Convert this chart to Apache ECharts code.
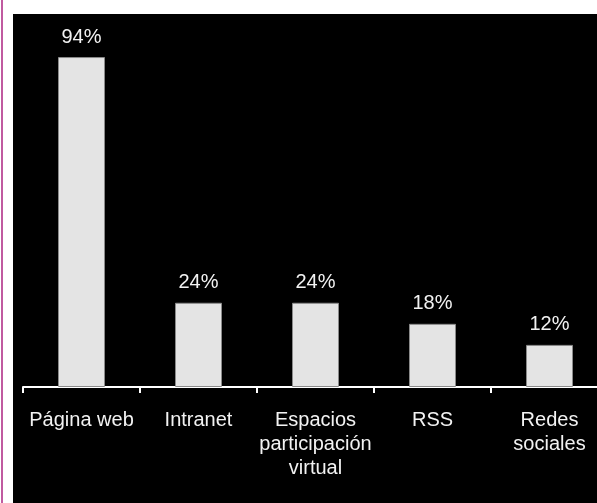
<!DOCTYPE html>
<html><head><meta charset="utf-8">
<script src="https://cdn.jsdelivr.net/npm/echarts@6/dist/echarts.min.js"></script>
<style>html,body{margin:0;padding:0;background:#fff}#c{width:597px;height:503px}</style>
</head><body><div id="c"></div>
<script>
const categories = ['Página web', 'Intranet', 'Espacios\nparticipación\nvirtual', 'RSS', 'Redes\nsociales'];
const values = [94, 24, 24, 18, 12];
const chart = echarts.init(document.getElementById('c'));
chart.setOption({
  backgroundColor: '#ffffff',
  animation: false,
  graphic: [
    {type: 'rect', shape: {x: 13, y: 14, width: 600, height: 500}, style: {fill: '#000000'}, z: -10},
    {type: 'rect', shape: {x: 1, y: 0, width: 2, height: 503}, style: {fill: '#c05aa0'}, z: -10}
  ],
  grid: {left: 23, right: -11, top: 36, bottom: 116, outerBoundsMode: 'none', containLabel: false},
  xAxis: {
    type: 'category', data: categories,
    axisLine: {lineStyle: {color: '#ffffff', width: 2}},
    axisTick: {show: true, length: 6, lineStyle: {color: '#ffffff', width: 2}},
    axisLabel: {color: '#f2f2f2', fontSize: 20, lineHeight: 24, margin: 21, fontFamily: 'Liberation Sans, Arial, sans-serif', interval: 0}
  },
  yAxis: {type: 'value', min: 0, max: 100, show: false, splitLine: {show: false}},
  series: [{
    type: 'bar', data: values, barWidth: 47,
    itemStyle: {color: '#e4e4e4', borderColor: '#8a8a8a', borderWidth: 1},
    label: {show: true, position: 'top', distance: 10, formatter: '{c}%', color: '#f2f2f2', fontSize: 20, fontFamily: 'Liberation Sans, Arial, sans-serif'}
  }]
});
</script></body></html>
